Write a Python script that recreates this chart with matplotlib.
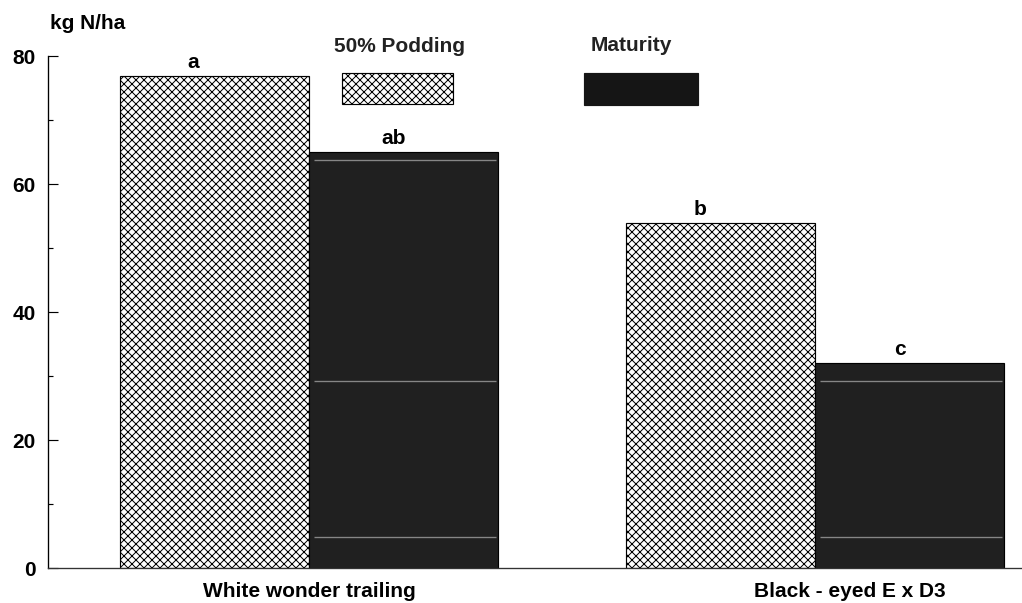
import numpy as np
import matplotlib
matplotlib.use("Agg")
import matplotlib.pyplot as plt
from matplotlib.patches import Rectangle
from matplotlib.ticker import MultipleLocator
import matplotlib.transforms as mtransforms

# dane
varieties = ["White wonder trailing", "Black - eyed E x D3"]
podding = [77, 54]      # 50% Podding
maturity = [65, 32]     # Maturity
letters_pod = ["a", "b"]
letters_mat = ["ab", "c"]
streaks = [63.8, 29.3, 4.9]  # jasne pasy ze skanu

plt.rcParams['font.family'] = ['Liberation Sans', 'DejaVu Sans']
plt.rcParams['font.weight'] = 'bold'
plt.rcParams['hatch.linewidth'] = 0.6

W, H, DPI = 1022, 603, 120
fig = plt.figure(figsize=(W / DPI, H / DPI), dpi=DPI)


def fx(px):
    return px / W


def fy(py):
    return 1 - py / H


ax = fig.add_axes([fx(48), fy(568), fx(1022) - fx(48), fy(56.5) - fy(568)])

x = np.arange(len(varieties))
w = 0.3735
hatch = 'xxxxx'
b1 = ax.bar(x - w, podding, w, align='edge', color='white', edgecolor='black',
            hatch=hatch, linewidth=0.7)
b2 = ax.bar(x, maturity, w, align='edge', color='#202020', edgecolor='black',
            linewidth=0.7)

for bar in b2:
    for s in streaks:
        if s < bar.get_height():
            ax.hlines(s, bar.get_x() + 0.01, bar.get_x() + bar.get_width() - 0.005,
                      color='#a0a0a0', linewidth=0.8, alpha=0.8)

# litery istotności
for bars, labs, dx in [(b1, letters_pod, -21), (b2, letters_mat, -10)]:
    for bar, lab in zip(bars, labs):
        ax.annotate(lab, (bar.get_x() + bar.get_width() / 2, bar.get_height()),
                    xytext=(dx * 72 / DPI, 8 * 72 / DPI), textcoords='offset points',
                    ha='center', va='baseline', fontsize=12.5, fontweight='bold')

ax.set_xlim(-0.516, 1.409)
ax.set_ylim(0, 80)
ax.yaxis.set_major_locator(MultipleLocator(20))
ax.yaxis.set_minor_locator(MultipleLocator(10))
ax.tick_params(axis='y', which='major', direction='in', length=6, width=0.7,
               pad=7.5, labelsize=12.5)
ax.tick_params(axis='y', which='minor', direction='in', length=3, width=0.7)
ax.set_xticks(x)
ax.set_xticklabels(varieties, fontsize=12.5, fontweight='bold')
ax.tick_params(axis='x', length=0, pad=8.5)
# druga etykieta przesunięta w prawo jak w oryginale
lab2 = ax.get_xticklabels()[1]
lab2.set_transform(lab2.get_transform() + mtransforms.ScaledTranslation(35 / DPI, 0, fig.dpi_scale_trans))

for sp in ['top', 'right']:
    ax.spines[sp].set_visible(False)
ax.spines['left'].set_linewidth(0.8)
ax.spines['bottom'].set_linewidth(0.8)
ax.spines['bottom'].set_color('#333333')

fig.text(fx(50), fy(29), "kg N/ha", fontsize=12.5, fontweight='bold', va='baseline')

# legenda
fig.text(fx(400), fy(52), "50% Podding", fontsize=12.5, fontweight='bold',
         ha='center', va='baseline', color='#222222')
fig.text(fx(631), fy(51), "Maturity", fontsize=12.5, fontweight='bold',
         ha='center', va='baseline', color='#222222')
fig.patches.append(Rectangle((fx(342), fy(104)), fx(453) - fx(342), fy(73) - fy(104),
                             transform=fig.transFigure, facecolor='white',
                             edgecolor='black', hatch=hatch, linewidth=0.7))
fig.patches.append(Rectangle((fx(584), fy(105)), fx(698) - fx(584), fy(73) - fy(105),
                             transform=fig.transFigure, facecolor='#151515',
                             edgecolor='#151515', linewidth=0.7))

fig.savefig("out.png", dpi=DPI)
